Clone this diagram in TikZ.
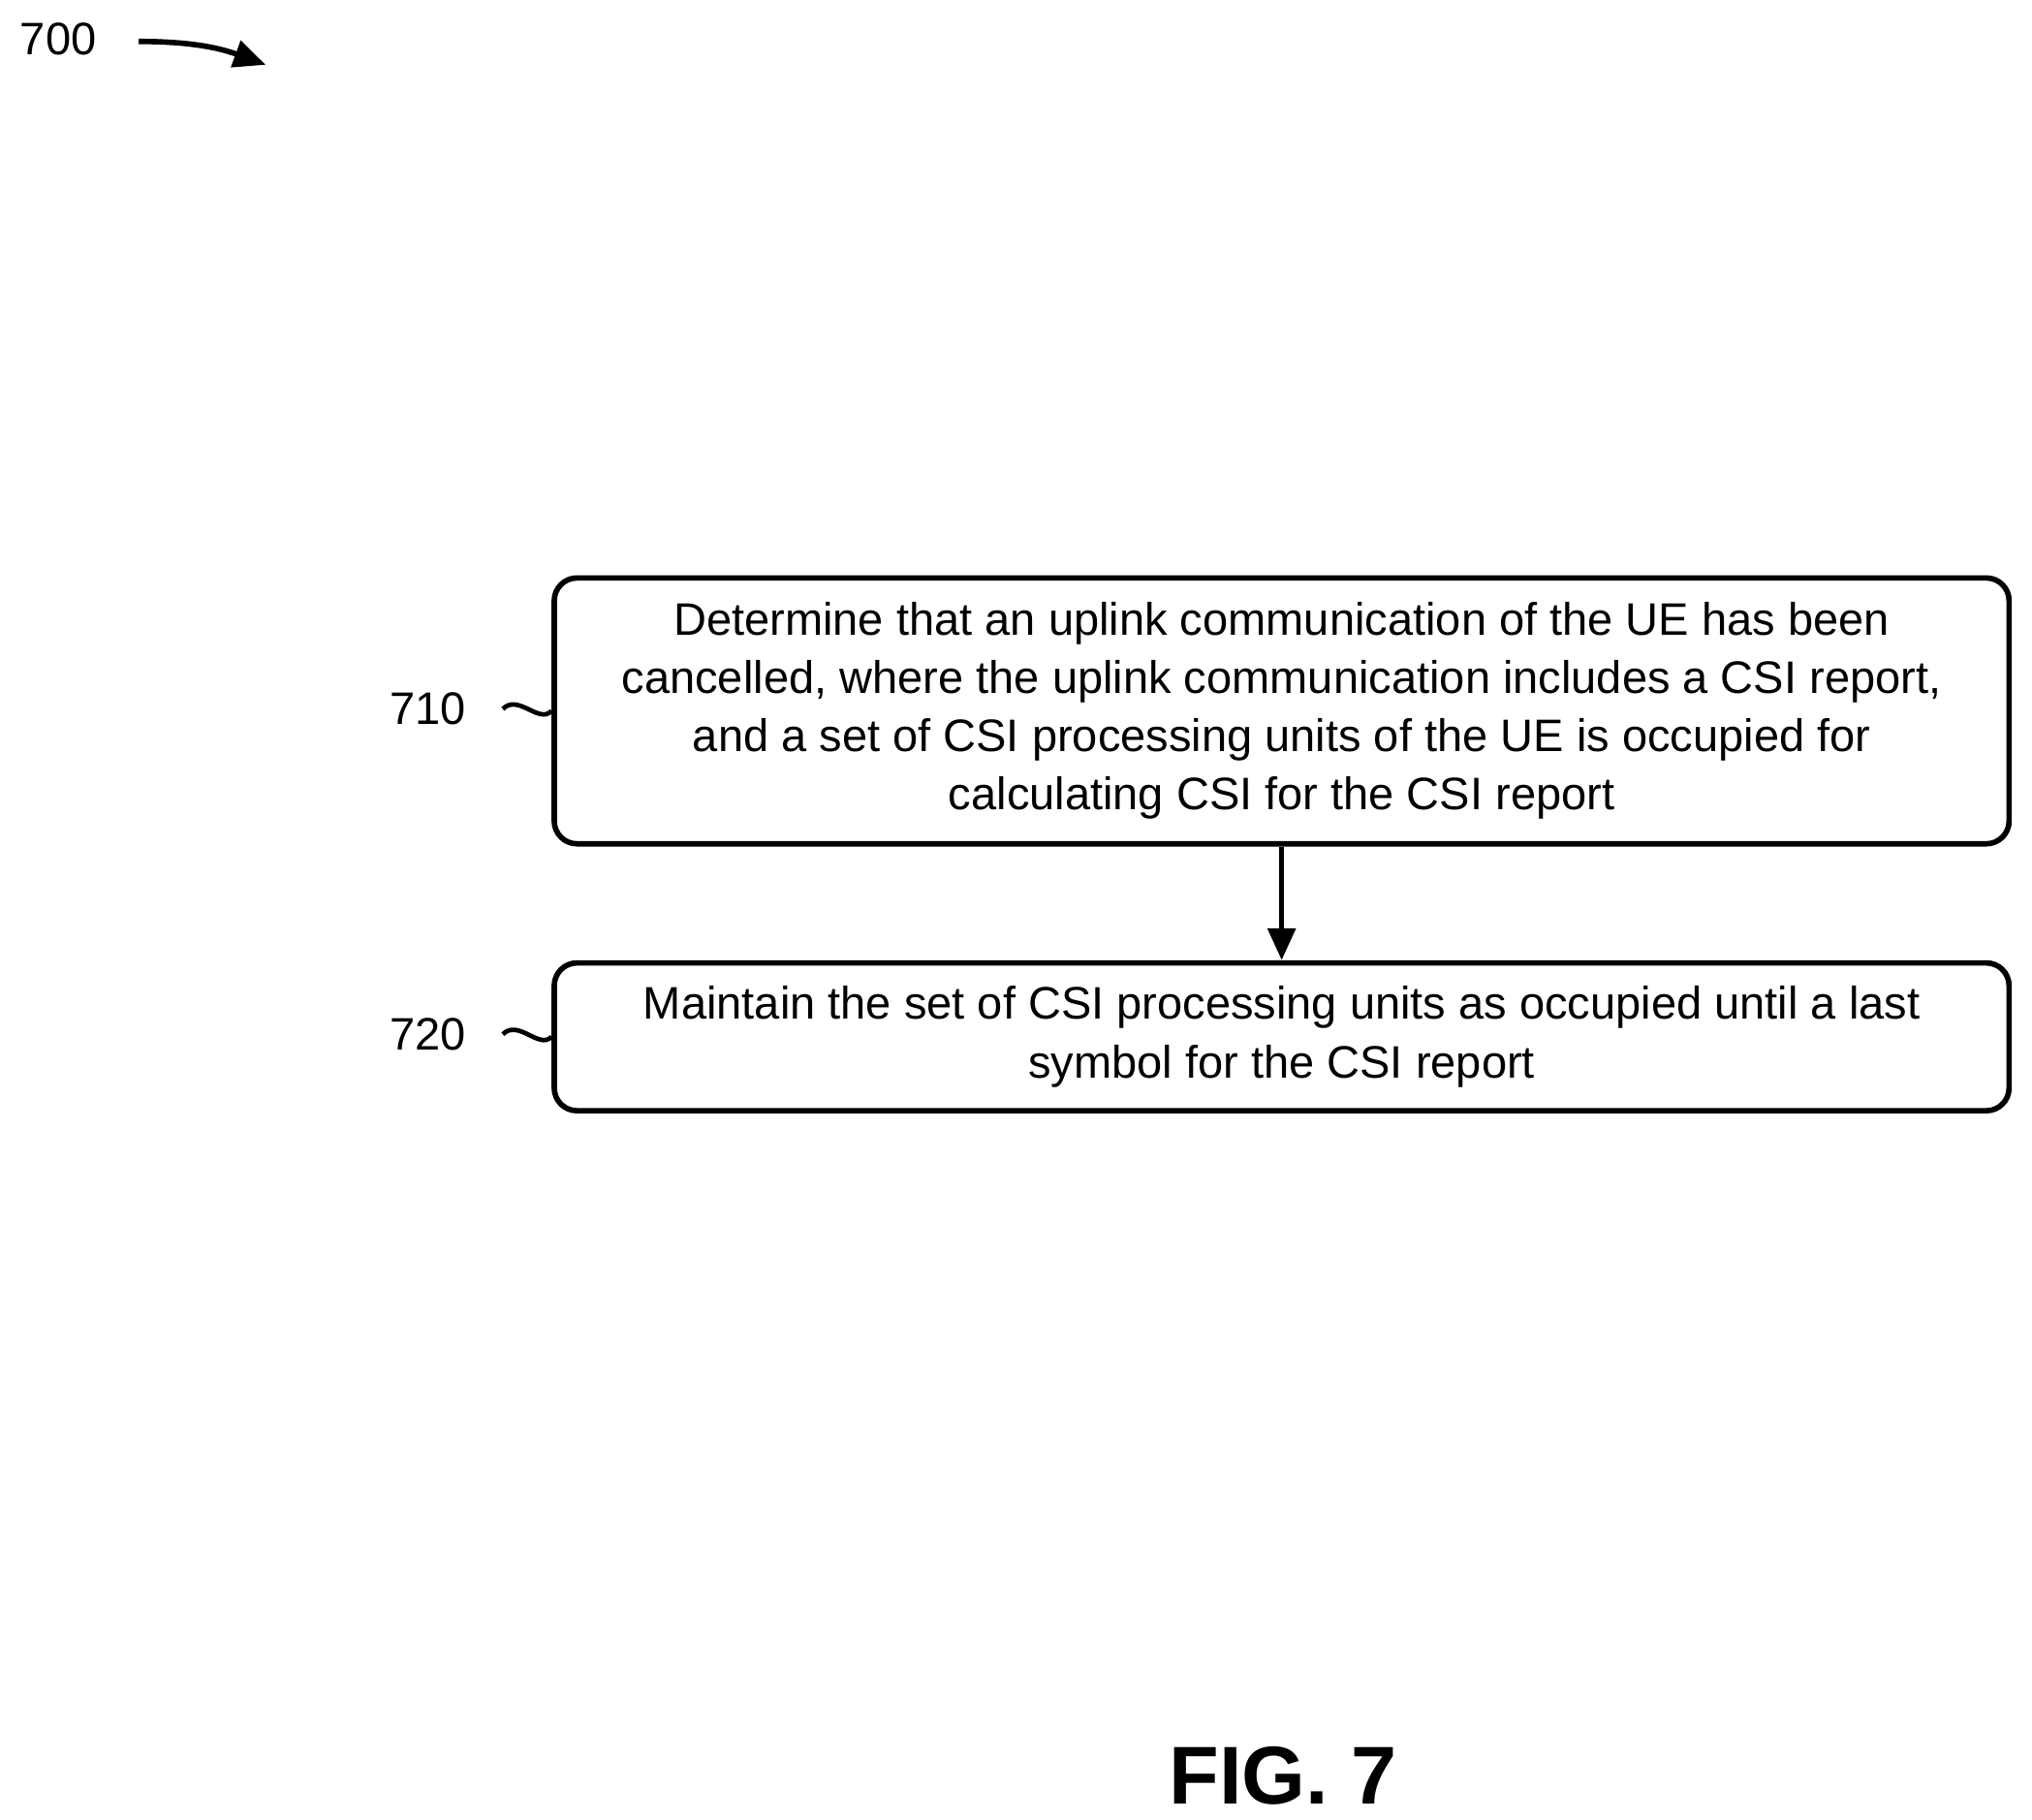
\documentclass[tikz,border=0pt]{standalone}
\usepackage{fontspec}
\setmainfont{Liberation Sans}
\usetikzlibrary{arrows.meta, positioning}

\begin{document}
\begin{tikzpicture}[
    x=0.01cm, y=-0.01cm,
    flowbox/.style={rectangle, rounded corners=5pt, draw, line width=1.2pt, minimum width=11.22cm, align=center, font=\fontsize{10}{12.8}\selectfont, inner sep=0pt},
    ref/.style={font=\fontsize{10}{12}\selectfont},
    arrow/.style={-{Triangle[length=7pt,width=6pt]}, line width=1.2pt}
]
\useasboundingbox (0,0) rectangle (1568,1404);

\node[ref] (n700) at (45,30) {700};
\coordinate (a700s) at (107,32);
\coordinate (a700e) at (205,50);
\draw[arrow] (a700s) to[out=0, in=160] (a700e);

\node[flowbox, minimum height=2.05cm] (cancel) at (989,548.5) {Determine that an uplink communication of the UE has been\\cancelled, where the uplink communication includes a CSI report,\\and a set of CSI processing units of the UE is occupied for\\calculating CSI for the CSI report};
\node[flowbox, minimum height=1.14cm] (maintain) at (989,800) {Maintain the set of CSI processing units as occupied until a last\\symbol for the CSI report};

\node[ref] (n710) at (330,547) {710};
\node[ref] (n720) at (330,798) {720};
\draw[line width=1pt] (388,547) .. controls (400,535) and (416,559) .. (cancel.west);
\draw[line width=1pt] (388,798) .. controls (400,786) and (416,810) .. (maintain.west);

\draw[arrow] (cancel) -- (maintain);

\node[font=\fontsize{18}{20}\selectfont\bfseries] (fig) at (990,1370) {FIG. 7};
\end{tikzpicture}
\end{document}
